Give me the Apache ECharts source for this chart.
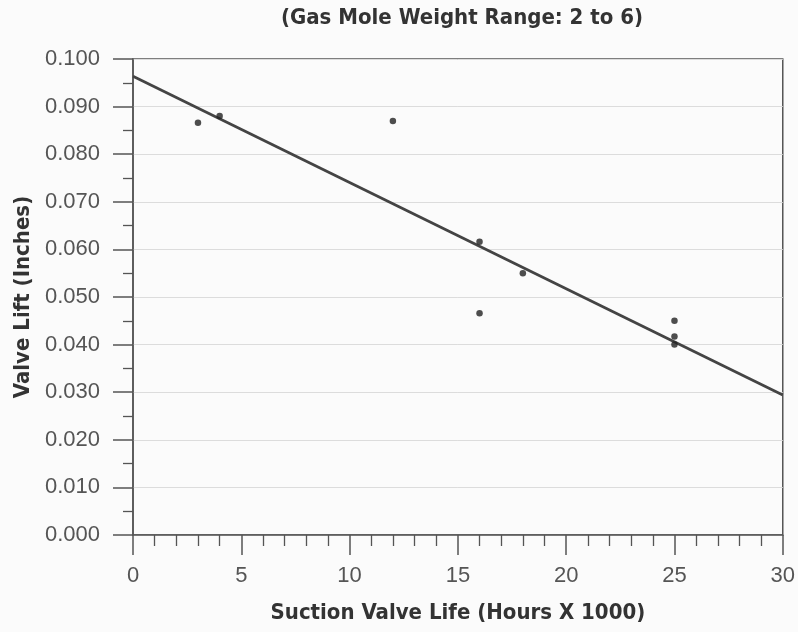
<!DOCTYPE html>
<html>
<head>
<meta charset="utf-8">
<script src="https://cdn.jsdelivr.net/npm/echarts@6/dist/echarts.min.js"></script>
<style>
html,body{margin:0;padding:0;background:#fbfbfb;}
#chart{width:798px;height:632px;}
</style>
</head>
<body>
<div id="chart"></div>
<script>
// Data
const titleText = '(Gas Mole Weight Range: 2 to 6)';
const xAxisName = 'Suction Valve Life (Hours X 1000)';
const yAxisName = 'Valve Lift (Inches)';
const lifeHours = [3, 4, 12, 16, 16, 18, 25, 25, 25];
const valveLift = [0.0866, 0.0880, 0.0870, 0.0616, 0.0466, 0.0550, 0.0450, 0.0417, 0.0400];
const trendX = [0, 30];
const trendY = [0.0964, 0.0294];

const condensed = '"Liberation Sans Narrow", "DejaVu Sans Condensed", "Liberation Sans", sans-serif';
const regular = '"Liberation Sans", Arial, sans-serif';

const chart = echarts.init(document.getElementById('chart'), null, {renderer: 'canvas'});
chart.setOption({
  backgroundColor: '#fbfbfb',
  animation: false,
  title: {
    text: titleText,
    left: 457,
    top: 2,
    textAlign: 'center',
    textStyle: {fontFamily: condensed, fontWeight: 'bold', fontSize: 22, color: '#333'}
  },
  grid: {
    left: 133, right: 13, top: 59, bottom: 97,
    show: true, borderColor: '#555', borderWidth: 1.5, backgroundColor: 'transparent'
  },
  xAxis: {
    type: 'value', min: 0, max: 30, interval: 5,
    name: xAxisName, nameLocation: 'middle', nameGap: 67,
    nameTextStyle: {fontFamily: condensed, fontWeight: 'bold', fontSize: 22, color: '#333'},
    axisLine: {show: true, lineStyle: {color: '#555', width: 1.5}},
    axisTick: {show: true, inside: false, length: 20, lineStyle: {color: '#555', width: 1.5}},
    minorTick: {show: true, splitNumber: 5, length: 11, lineStyle: {color: '#555', width: 1.3}},
    axisLabel: {margin: 30, fontFamily: regular, fontSize: 22, color: '#555'},
    splitLine: {show: false}
  },
  yAxis: {
    type: 'value', min: 0, max: 0.1, interval: 0.01,
    name: yAxisName, nameLocation: 'middle', nameGap: 96, nameRotate: 90,
    nameTextStyle: {fontFamily: condensed, fontWeight: 'bold', fontSize: 22, color: '#333'},
    axisLine: {show: true, lineStyle: {color: '#555', width: 1.5}},
    axisTick: {show: true, inside: false, length: 20, lineStyle: {color: '#555', width: 1.5}},
    minorTick: {show: true, splitNumber: 2, length: 10, lineStyle: {color: '#555', width: 1.3}},
    axisLabel: {margin: 33, fontFamily: regular, fontSize: 22, color: '#555',
      formatter: v => v.toFixed(3)},
    splitLine: {show: true, lineStyle: {color: '#dcdcdc', width: 1}}
  },
  series: [
    {
      type: 'line',
      data: trendX.map((x, i) => [x, trendY[i]]),
      symbol: 'none',
      lineStyle: {color: '#444', width: 2.8},
      z: 2
    },
    {
      type: 'scatter',
      data: lifeHours.map((x, i) => [x, valveLift[i]]),
      symbol: 'circle', symbolSize: 6.5,
      itemStyle: {color: '#222'},
      z: 3
    }
  ]
});
</script>
</body>
</html>
